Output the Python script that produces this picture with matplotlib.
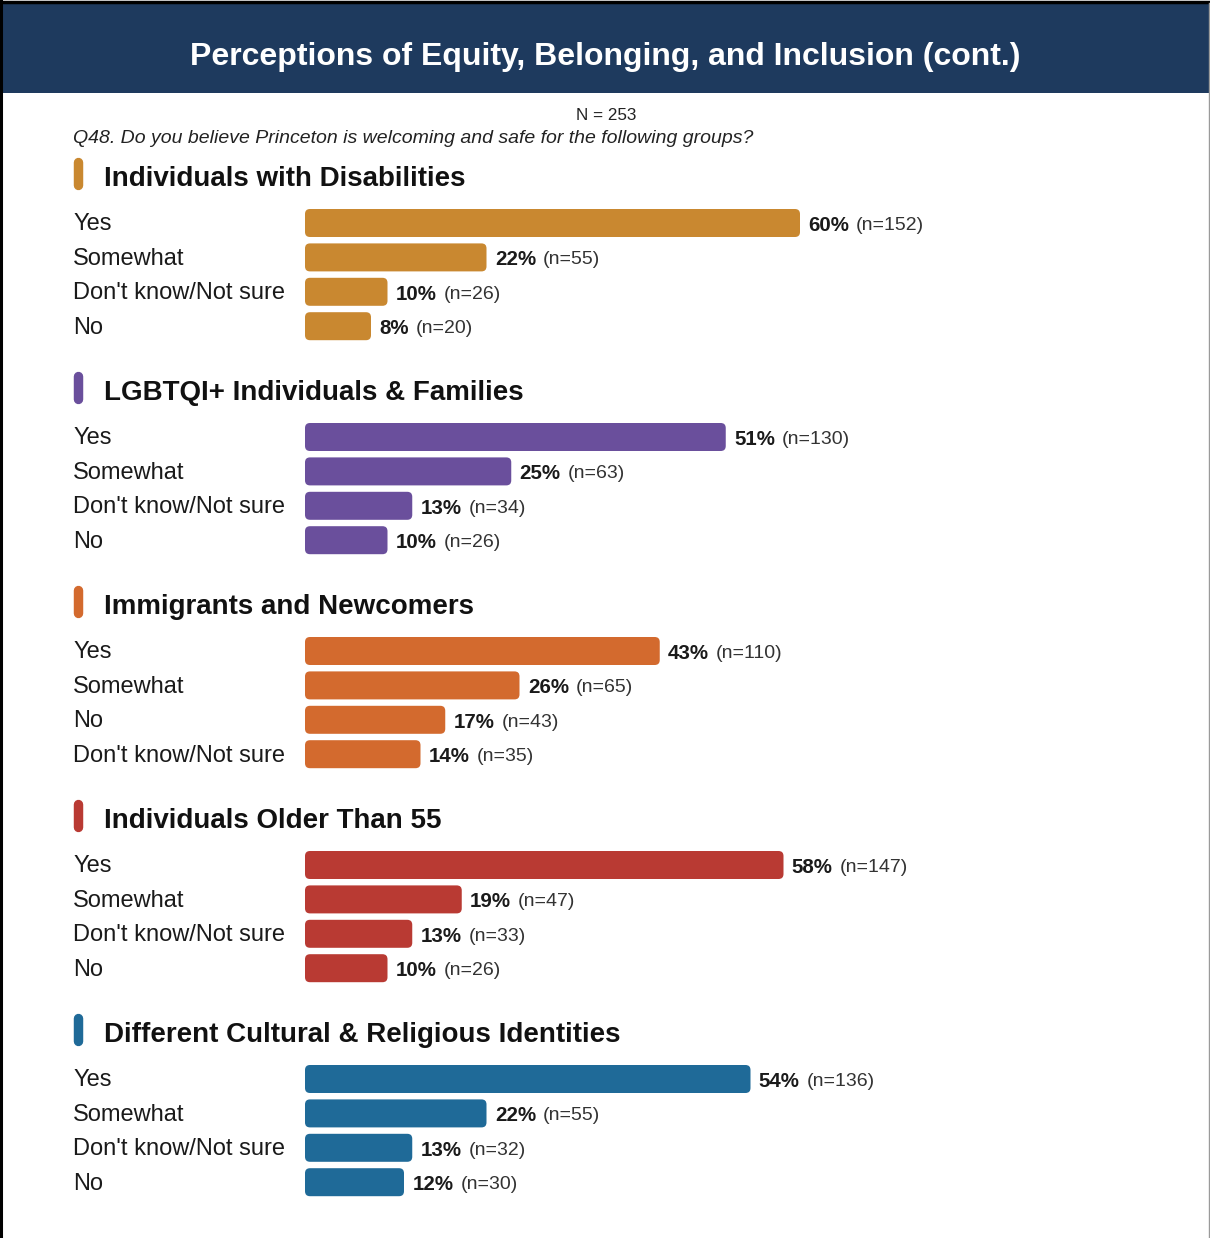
import matplotlib.pyplot as plt
from matplotlib.patches import FancyBboxPatch, Rectangle
from matplotlib.lines import Line2D
from matplotlib.transforms import blended_transform_factory

plt.rcParams['font.family'] = ['Liberation Sans', 'DejaVu Sans']

title = "Perceptions of Equity, Belonging, and Inclusion (cont.)"
question = "Q48. Do you believe Princeton is welcoming and safe for the following groups?"
n_total = 253

groups = ["Individuals with Disabilities", "LGBTQI+ Individuals & Families",
          "Immigrants and Newcomers", "Individuals Older Than 55",
          "Different Cultural & Religious Identities"]
colors = ["#C98830", "#6A4F9C", "#D36A2E", "#B93A33", "#1F6A98"]
answers = [
    ["Yes", "Somewhat", "Don't know/Not sure", "No"],
    ["Yes", "Somewhat", "Don't know/Not sure", "No"],
    ["Yes", "Somewhat", "No", "Don't know/Not sure"],
    ["Yes", "Somewhat", "Don't know/Not sure", "No"],
    ["Yes", "Somewhat", "Don't know/Not sure", "No"],
]
pcts = [
    [60, 22, 10, 8],
    [51, 25, 13, 10],
    [43, 26, 17, 14],
    [58, 19, 13, 10],
    [54, 22, 13, 12],
]
counts = [
    [152, 55, 26, 20],
    [130, 63, 34, 26],
    [110, 65, 43, 35],
    [147, 47, 33, 26],
    [136, 55, 32, 30],
]

W, H = 1210, 1238
fig = plt.figure(figsize=(W / 100, H / 100), dpi=100)
fig.patch.set_facecolor("white")

def fx(px):
    return px / W

def fy(py):
    return 1 - py / H

# header band and frame
fig.patches.append(Rectangle((fx(2), fy(93)), fx(1207), 90 / H, transform=fig.transFigure,
                             facecolor="#1E3A5E", edgecolor="none"))
fig.lines.append(Line2D([fx(1), fx(1)], [0, 1], transform=fig.transFigure, color="black", lw=2.2))
fig.lines.append(Line2D([0, 1], [fy(1.5), fy(1.5)], transform=fig.transFigure, color="black", lw=2.5))
fig.lines.append(Line2D([fx(1208.5), fx(1208.5)], [0, fy(3)], transform=fig.transFigure,
                        color="#9a9a9a", lw=1))
fig.text(0.5, fy(56.5), title, color="white", fontsize=23, fontweight="bold",
         ha="center", va="center")
fig.text(fx(606), fy(116), f"N = {n_total}", fontsize=12.3, ha="center", va="center", color="#222222")
fig.text(fx(73), fy(138.5), question, fontsize=14, style="italic", ha="left", va="center",
         color="#222222")

px_per_pct = 8.25
row_h = 34.4
x0 = 305
x1 = 1150
dy = 2.5 / row_h  # small downward nudge for text centring
for i, grp in enumerate(groups):
    first = 223 + 214 * i
    top = first - row_h / 2
    ax = fig.add_axes([fx(x0), fy(top + 4 * row_h), fx(x1 - x0), 4 * row_h / H])
    ax.set_xlim(0, (x1 - x0) / px_per_pct)
    ax.set_ylim(3.5, -0.5)
    ax.axis("off")

    # rounded bars
    r = 5 / px_per_pct
    aspect = (5 / row_h) / r
    bar_h = 28 / row_h
    for j, (p, n) in enumerate(zip(pcts[i], counts[i])):
        ax.add_patch(FancyBboxPatch((0, j - bar_h / 2), p, bar_h,
                                    boxstyle=f"round,pad=0,rounding_size={r}",
                                    mutation_aspect=aspect,
                                    facecolor=colors[i], edgecolor="none"))
        t1 = ax.annotate(f"{p}%", xy=(p, j + dy), xytext=(6, 0), textcoords="offset points",
                         fontsize=14.8, fontweight="bold", va="center", ha="left",
                         color="#1a1a1a")
        ax.annotate(f"(n={n})", xy=(1, 0.5), xycoords=t1, xytext=(5, 0),
                    textcoords="offset points", fontsize=14, va="center", ha="left",
                    color="#333333")

    trans = blended_transform_factory(fig.transFigure, ax.transData)
    for j, a in enumerate(answers[i]):
        ax.text(fx(73), j + dy - 0.03, a, transform=trans, fontsize=17, va="center", ha="left",
                color="#1a1a1a", clip_on=False)

    # section heading with colored marker
    hy = -44.5 / row_h
    ax.text(fx(104), hy, grp, transform=trans, fontsize=20, fontweight="bold",
            va="center", ha="left", color="#111111", clip_on=False)
    fig.lines.append(Line2D([fx(77.5), fx(77.5)], [fy(first - 61), fy(first - 38)],
                            transform=fig.transFigure, color=colors[i], lw=6.8,
                            solid_capstyle="round"))

fig.savefig("out.png", dpi=100)
